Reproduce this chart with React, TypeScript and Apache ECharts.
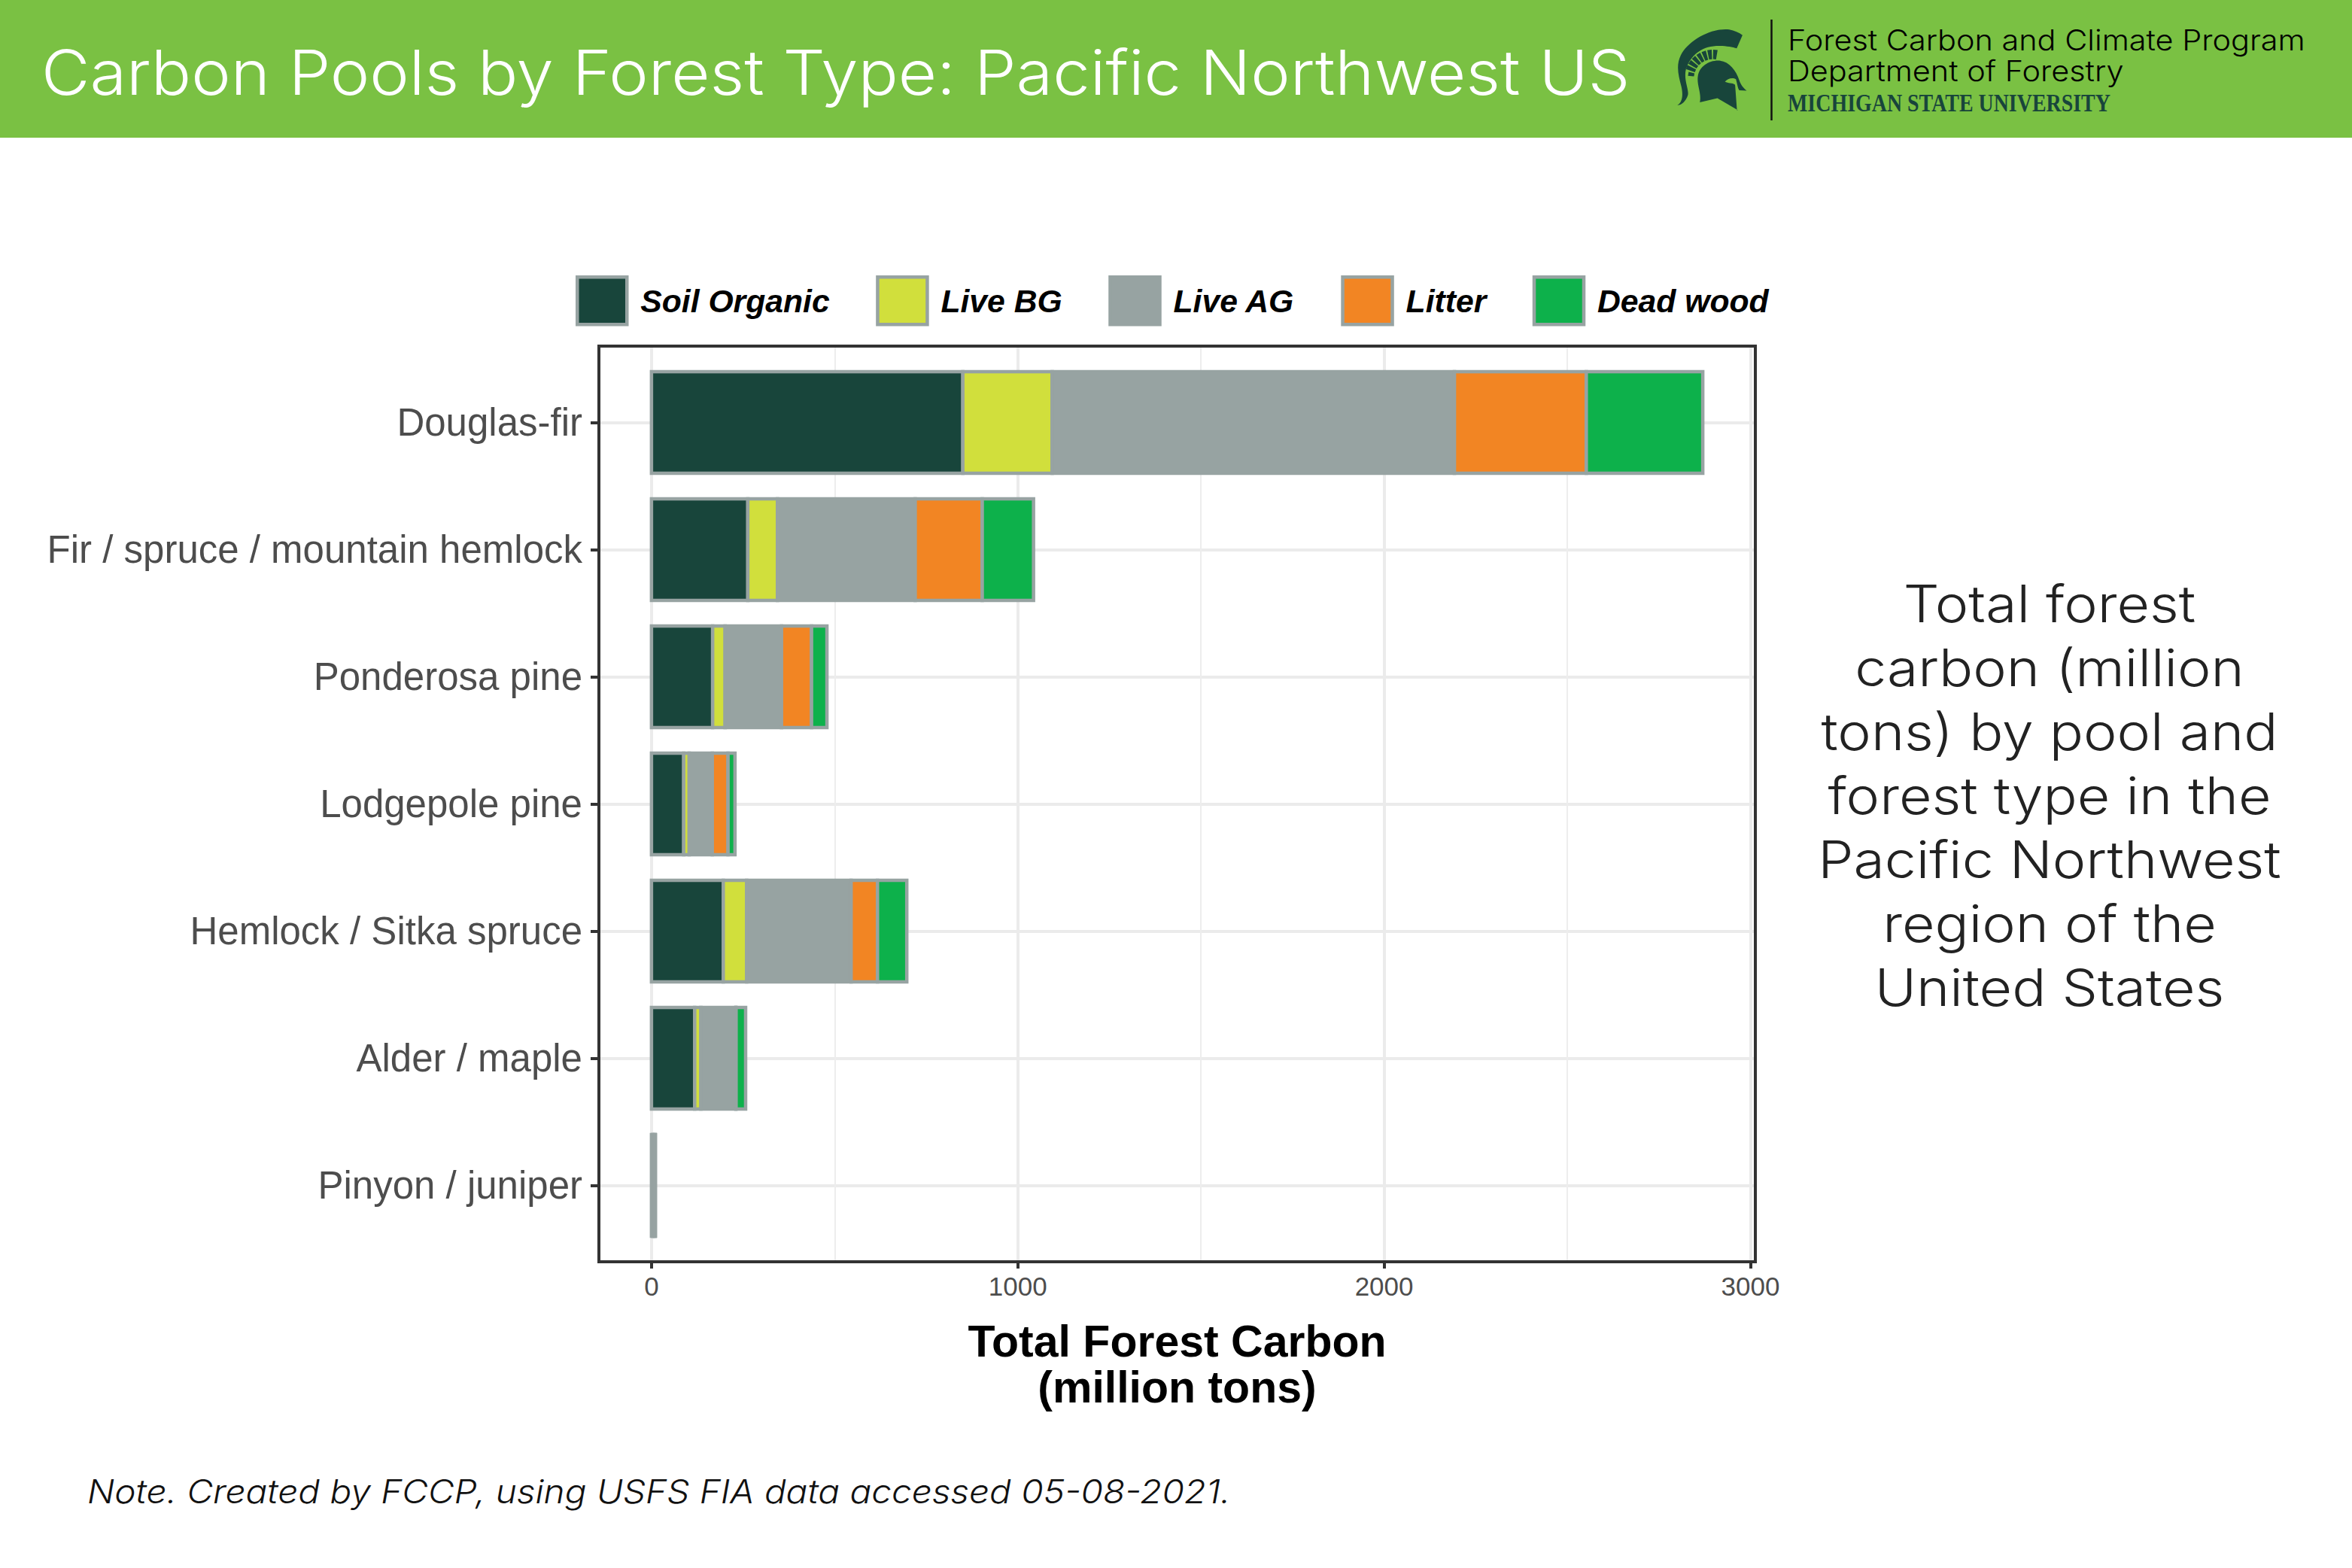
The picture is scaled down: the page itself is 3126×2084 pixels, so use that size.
import React, { useEffect, useRef } from "react";
import * as echarts from "echarts";

const forestTypes = ["Douglas-fir", "Fir / spruce / mountain hemlock", "Ponderosa pine", "Lodgepole pine", "Hemlock / Sitka spruce", "Alder / maple", "Pinyon / juniper"];
const soilOrganic = [850, 263, 167, 88, 196, 118, 3];
const liveBG = [244, 81, 34, 15, 64, 17, 1];
const liveAG = [1098, 376, 154, 63, 285, 95, 5];
const litter = [360, 183, 82, 43, 72, 1, 1];
const deadWood = [318, 140, 42, 19, 80, 26, 1];
const poolNames = ["Soil Organic", "Live BG", "Live AG", "Litter", "Dead wood"];
const poolColors = ["#18453b", "#d1df3c", "#97a3a2", "#f28523", "#0db14b"];
const majorTicks = [0, 1000, 2000, 3000];
const minorTicks = [500, 1500, 2500];
const axisMin = -143.5;
const axisMax = 3013.5;

const LIGHT = "Inter";
const SANS = "Liberation Sans";
const BORDER = "#97a3a2";

function featherPath() {
  const cx = 200, cy = 222;
  let d = "";
  const angles = [170, 157, 145, 133, 121, 109, 97, 85];
  angles.forEach((a, i) => {
    const w = 4.5;
    const ri = 76, ro = i === 0 ? 100 : 114;
    const pt = (ang: number, r: number) => {
      const t = (ang * Math.PI) / 180;
      return `${(cx + r * Math.cos(t)).toFixed(1)} ${(cy - r * Math.sin(t)).toFixed(1)}`;
    };
    d += `M${pt(a - w, ri)} L${pt(a - w, ro)} L${pt(a + w, ro)} L${pt(a + w, ri)} Z `;
  });
  return d;
}

const helmetPath =
  "M58 330 C78 318 82 290 74 255 C62 210 52 170 72 130 C100 75 190 20 265 28 C285 32 305 40 318 50 L295 103 C270 95 220 88 180 98 C130 112 92 160 90 205 C88 240 105 270 100 290 C92 315 75 330 58 330 Z " +
  "M140 215 C145 175 185 150 225 152 C265 155 292 190 305 230 C312 250 322 262 335 272 L305 270 L288 240 L296 350 L300 350 L218 302 L148 318 C155 280 135 250 140 215 Z " +
  featherPath();
const eyePath = "M248 236 C258 222 280 218 292 226 L302 268 L288 248 C278 240 260 244 248 236 Z";

echarts.graphic.registerShape("spartanHelmet", (echarts.graphic as any).extendPath(helmetPath, {}));
echarts.graphic.registerShape("spartanEye", (echarts.graphic as any).extendPath(eyePath, {}));

export default function App() {
  const ref = useRef<HTMLDivElement>(null);
  useEffect(() => {
    document.body.style.margin = "0";
    const chart = echarts.init(ref.current!, undefined, { renderer: "svg" });
    const values = [soilOrganic, liveBG, liveAG, litter, deadWood];
    const running = forestTypes.map(() => 0);
    const stackedSeries = poolNames.map((name, i) => {
      const data = forestTypes.map((_, k) => {
        const start = running[k];
        running[k] = start + values[i][k];
        return [k, start, running[k]];
      });
      return {
        name,
        type: "custom",
        xAxisIndex: 2,
        yAxisIndex: 1,
        encode: { y: 0, x: [1, 2] },
        data,
        itemStyle: { color: poolColors[i] },
        renderItem: (_params: any, api: any) => {
          const a = api.coord([api.value(1), api.value(0)]);
          const b = api.coord([api.value(2), api.value(0)]);
          const h = api.size([0, 1])[1] * 0.8;
          return {
            type: "rect",
            shape: { x: a[0], y: a[1] - h / 2, width: b[0] - a[0], height: h },
            style: { fill: poolColors[i], stroke: BORDER, lineWidth: 4.5 },
          };
        },
      };
    });
    chart.setOption({
      animation: false,
      backgroundColor: "#ffffff",
      legend: {
        left: 765,
        top: 366,
        padding: 0,
        itemWidth: 66,
        itemHeight: 63,
        itemGap: 61.5,
        icon: "rect",
        data: poolNames,
        itemStyle: { borderColor: BORDER, borderWidth: 4.5 },
        textStyle: { fontFamily: SANS, fontWeight: "bold", fontStyle: "italic", fontSize: 42.7, color: "#000", padding: [0, 0, 0, 13] },
      },
      grid: [
        { left: 796, top: 460, width: 1537, height: 1217, show: true, z: 5, backgroundColor: "transparent", borderColor: "#333333", borderWidth: 4 },
        { left: 796, top: 477, width: 1537, height: 1183, show: false },
      ],
      xAxis: [
        {
          type: "value", gridIndex: 0, min: axisMin, max: axisMax, position: "bottom",
          axisLine: { show: false, onZero: false },
          axisTick: { show: true, customValues: majorTicks, length: 9, lineStyle: { color: "#333333", width: 4 } },
          axisLabel: { customValues: majorTicks, formatter: (v: number) => String(v), fontFamily: SANS, fontSize: 35, color: "#4d4d4d", margin: 15 },
          splitLine: { show: true, lineStyle: { color: "#ebebeb", width: 4 } },
          name: "Total Forest Carbon\n(million tons)",
          nameLocation: "middle",
          nameGap: 75,
          nameTextStyle: { fontFamily: SANS, fontWeight: "bold", fontSize: 59, color: "#000", lineHeight: 61 },
        },
        {
          type: "value", gridIndex: 0, min: axisMin, max: axisMax, position: "bottom",
          axisLine: { show: false, onZero: false },
          axisTick: { show: false, customValues: minorTicks },
          axisLabel: { show: false, customValues: minorTicks },
          splitLine: { show: true, lineStyle: { color: "#ededed", width: 2 } },
        },
        { type: "value", gridIndex: 1, min: axisMin, max: axisMax, show: false },
      ],
      yAxis: [
        { type: "value", gridIndex: 0, min: 0, max: 1, show: false },
        {
          type: "category", gridIndex: 1, inverse: true, data: forestTypes,
          axisLine: { show: false, onZero: false },
          axisTick: { show: true, alignWithLabel: true, length: 11, lineStyle: { color: "#333333", width: 4 } },
          axisLabel: { fontFamily: SANS, fontSize: 51, color: "#4d4d4d", margin: 22 },
          splitLine: { show: true, alignWithLabel: true, lineStyle: { color: "#ebebeb", width: 4 } },
        },
      ],
      series: stackedSeries,
      graphic: [
        { type: "rect", z: -1, shape: { x: 0, y: 0, width: 3126, height: 183 }, style: { fill: "#7ac143" } },
        { type: "text", z: 1, x: 55, y: 96, scaleX: 1.08, style: { text: "Carbon Pools by Forest Type: Pacific Northwest US", fontFamily: LIGHT, fontWeight: 300, fontSize: 82, fill: "#ffffff", verticalAlign: "middle" } },
        { type: "spartanHelmet", x: 2210, y: 30, scaleX: 1 / 3, scaleY: 1 / 3, z: 1, style: { fill: "#18453b" } },
        { type: "spartanEye", x: 2210, y: 30, scaleX: 1 / 3, scaleY: 1 / 3, z: 2, style: { fill: "#7ac143" } },
        { type: "line", z: 1, shape: { x1: 2354.5, y1: 26, x2: 2354.5, y2: 160 }, style: { stroke: "#111111", lineWidth: 2.5 } },
        { type: "text", z: 1, x: 2376, y: 54, scaleX: 1.09, style: { text: "Forest Carbon and Climate Program", fontFamily: LIGHT, fontWeight: 300, fontSize: 38, fill: "#000", verticalAlign: "middle" } },
        { type: "text", z: 1, x: 2376, y: 95, scaleX: 1.09, style: { text: "Department of Forestry", fontFamily: LIGHT, fontWeight: 300, fontSize: 38, fill: "#000", verticalAlign: "middle" } },
        { type: "text", z: 1, x: 2376, y: 137, scaleX: 0.847, style: { text: "MICHIGAN STATE UNIVERSITY", fontFamily: "Liberation Serif", fontWeight: "bold", fontSize: 33, fill: "#18453b", verticalAlign: "middle" } },
        {
          type: "text", z: 1, x: 2724, y: 1057, scaleX: 1.105,
          style: {
            text: "Total forest\ncarbon (million\ntons) by pool and\nforest type in the\nPacific Northwest\nregion of the\nUnited States",
            fontFamily: LIGHT, fontWeight: 300, fontSize: 68, lineHeight: 85, fill: "#222", align: "center", verticalAlign: "middle",
          },
        },
        { type: "text", z: 1, x: 116, y: 1982, scaleX: 1.085, style: { text: "Note. Created by FCCP, using USFS FIA data accessed 05-08-2021.", fontFamily: LIGHT, fontWeight: 300, fontStyle: "italic", fontSize: 44, fill: "#111", verticalAlign: "middle" } },
      ],
    });
    return () => chart.dispose();
  }, []);
  return <div ref={ref} style={{ position: "absolute", left: 0, top: 0, width: 3126, height: 2084 }} />;
}
